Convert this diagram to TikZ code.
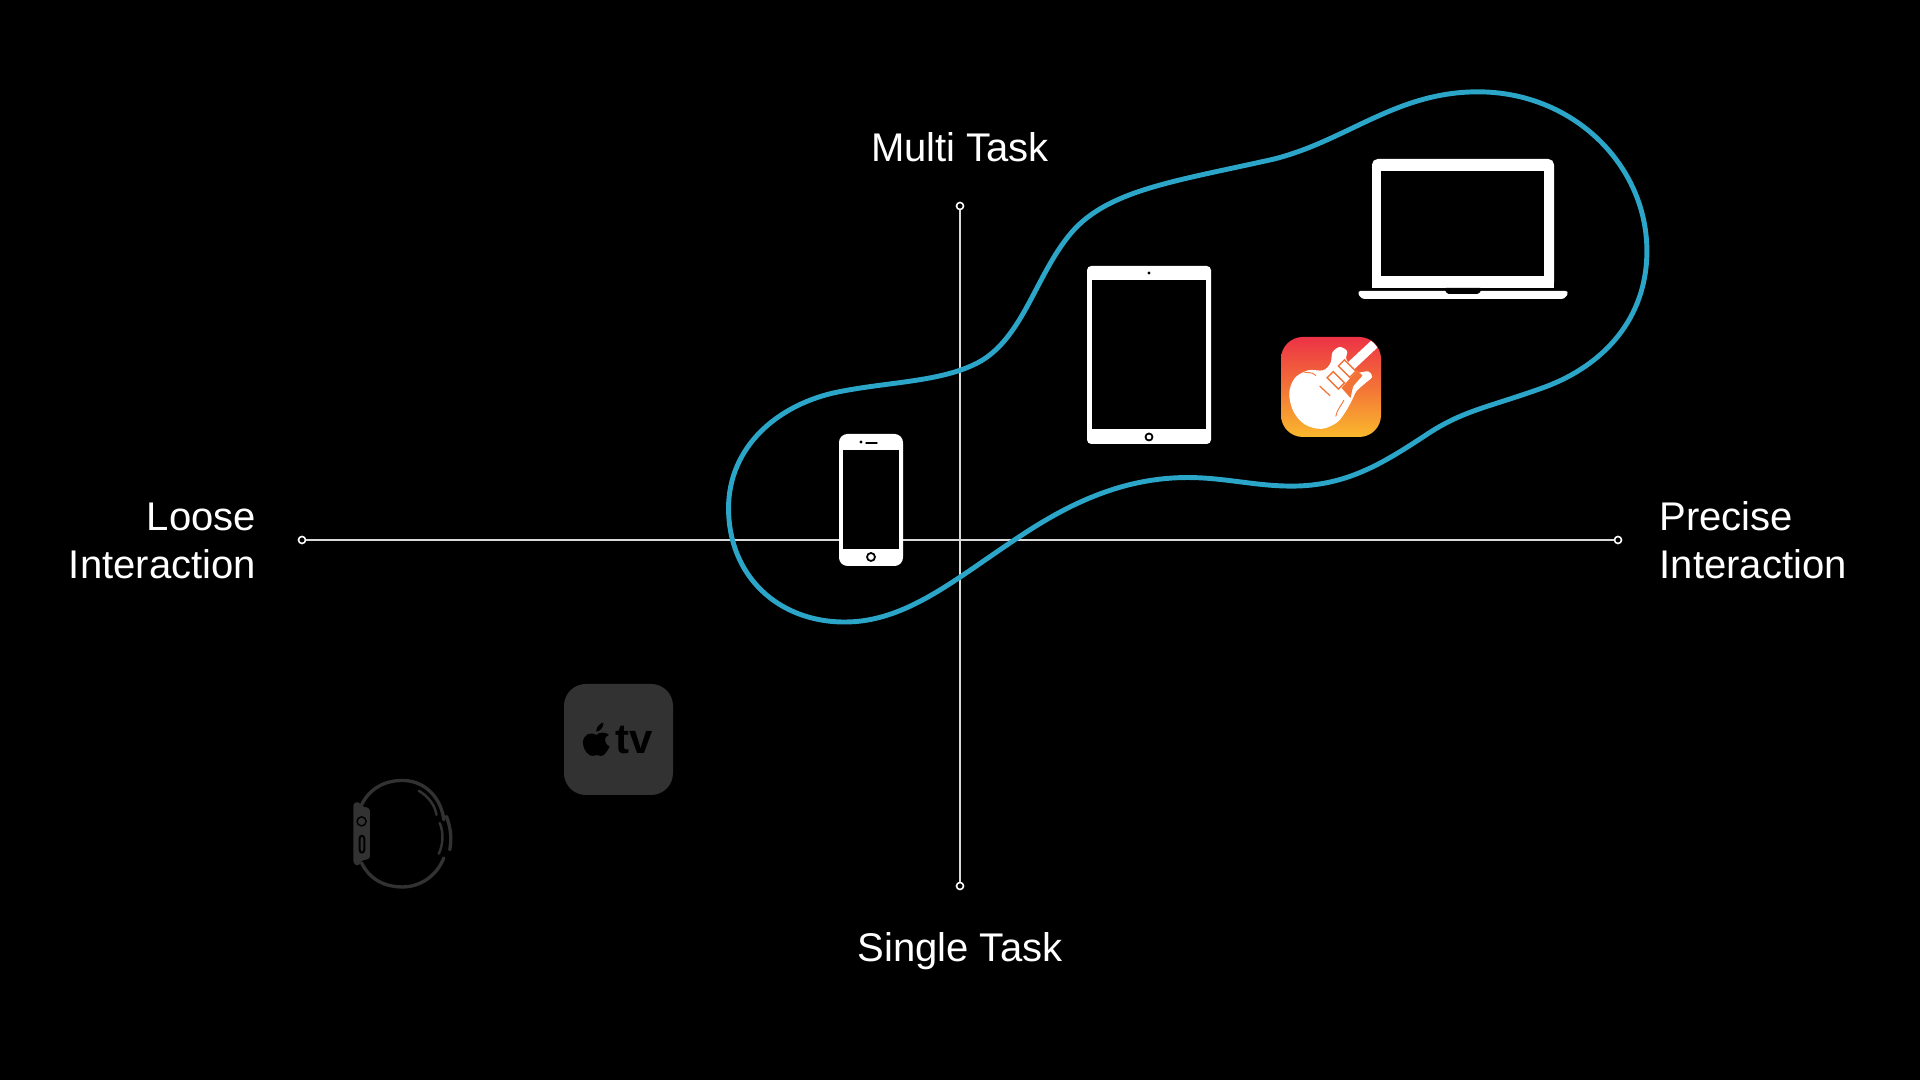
\documentclass[tikz,border=0pt]{standalone}
\usepackage{fontspec}
\setmainfont{Liberation Sans}
\definecolor{blobblue}{RGB}{43,165,200}
\definecolor{dimgray}{RGB}{50,50,50}
\definecolor{gbred}{RGB}{237,50,70}
\definecolor{gbmid}{RGB}{243,115,55}
\definecolor{gbyellow}{RGB}{250,185,45}
\tikzset{
  axislabel/.style={text=white, inner sep=0, font=\fontsize{11.38}{13.66}\selectfont},
  axisend/.style={circle, draw=white, fill=black, line width=0.45pt, minimum size=2pt, inner sep=0},
  axisline/.style={white!85!black, line width=0.5pt},
  devicebody/.style={fill=white},
  devicescreen/.style={fill=black},
  gbline/.style={gbmid, line width=0.35pt, line cap=round},
  watchline/.style={dimgray, line width=0.95pt, line cap=round}
}
\begin{document}
\begin{tikzpicture}[x=0.01cm, y=-0.01cm]
  \fill[black] (0,0) rectangle (1920,1080);
  \useasboundingbox (0,0) rectangle (1920,1080);

  \node[axisend] (axisleft) at (302,540) {};
  \node[axisend] (axisright) at (1618,540) {};
  \node[axisend] (axistop) at (960,206) {};
  \node[axisend] (axisbottom) at (960,886) {};
  \draw[axisline] (axisleft) -- (axisright);
  \draw[axisline] (axistop) -- (axisbottom);

  \node[axislabel] (multi) at (960,147) {Multi Task};
  \node[axislabel] (single) at (960,951) {Single Task};
  \node[axislabel, align=right, anchor=east] (loose) at (256.5,541) {Loose\\Interaction};
  \node[axislabel, align=left, anchor=west] (precise) at (1659,540) {Precise\\Interaction};

  \begin{scope}[x=0.012245cm, y=-0.012245cm]
    \draw[blobblue, line width=1.4pt] (1207,75) .. controls (1285,75) and (1345,135) .. (1345,205)
      .. controls (1345,260) and (1310,298) .. (1262,316)
      .. controls (1215,333) and (1195,335) .. (1165,355)
      .. controls (1130,378) and (1100,397) .. (1055,397)
      .. controls (1025,397) and (1000,390) .. (970,390)
      .. controls (915,390) and (870,413) .. (830,440)
      .. controls (780,473) and (740,508) .. (690,508)
      .. controls (635,508) and (595,470) .. (595,415)
      .. controls (595,365) and (635,330) .. (685,320)
      .. controls (725,312) and (765,312) .. (795,298)
      .. controls (835,280) and (845,225) .. (875,190)
      .. controls (905,155) and (960,148) .. (1040,130)
      .. controls (1100,115) and (1140,75) .. (1207,75) -- cycle;
  \end{scope}

  \fill[devicebody, rounded corners=2.4pt] (839,434) rectangle (903,566);
  \fill[devicescreen] (843,450) rectangle (899,549);
  \fill[black] (861,442) circle (1.6);
  \draw[black, line width=0.4pt, line cap=round] (866,443) -- (877,443);
  \draw[black, line width=0.5pt] (871,557) circle (4);

  \fill[devicebody, rounded corners=1.2pt] (1087,266) rectangle (1211,444);
  \fill[devicescreen] (1092,280) rectangle (1206,429);
  \fill[black] (1149,273) circle (1.6);
  \draw[black, line width=0.5pt] (1149,437) circle (3.5);

  \fill[devicebody, rounded corners=1.6pt] (1372,288) -- (1372,159) -- (1554,159) -- (1554,288) -- cycle;
  \fill[devicebody] (1372,280) rectangle (1554,288);
  \fill[devicescreen] (1381,171) rectangle (1544,276);
  \fill[devicebody, rounded corners=1pt] (1357,291) -- (1569,291) -- (1565,299) -- (1361,299) -- cycle;
  \fill[black, rounded corners=0.5pt] (1444,288) -- (1482,288) -- (1479,294) -- (1447,294) -- cycle;

  \shade[top color=gbred, bottom color=gbyellow, middle color=gbmid, rounded corners=6.2pt] (1281,337) rectangle (1381,437);
  \begin{scope}[shift={(1240,130)}, x=0.00333cm, y=-0.00333cm]
    \begin{scope}
      \clip[rounded corners=6.2pt] (124,622) rectangle (422,920);
      \draw[white, line width=2.65pt] (330,712) -- (420,628);
    \end{scope}
    \fill[white] plot[smooth cycle, tension=0.55] coordinates {
      (148,790) (165,745) (205,722) (250,722) (272,700) (278,668) (300,652) (322,665) (320,690)
      (352,727) (385,725) (397,742) (375,762) (350,785) (335,815) (315,850) (290,880)
      (245,898) (195,885) (160,845)};
    \fill[gbmid] (352,722) -- (368,738) -- (340,770) -- (332,805) -- (305,775) -- cycle;
    \fill[white, draw=gbmid, line width=0.4pt, rotate around={-45:(322,717)}] (298,704) rectangle (346,730);
    \fill[white, draw=gbmid, line width=0.4pt, rotate around={-45:(288,752)}] (264,739) rectangle (312,765);
    \draw[gbline] (240,770) -- (270,798);
    \draw[gbline, line width=0.25pt] (186,724) .. controls (205,735) and (210,722) .. (228,738);
    \draw[gbline, line width=0.25pt] (288,860) .. controls (292,840) and (300,835) .. (312,812);
  \end{scope}

  \fill[dimgray, rounded corners=6.2pt] (564,684) rectangle (673,795);
  \node[inner sep=0, text=black, font=\fontsize{11.9}{12}\selectfont\bfseries] (tvtext) at (634,740) {tv};
  \begin{scope}[shift={(320,660)}, x=0.00333cm, y=-0.00333cm]
    \fill[black] (830,225) .. controls (815,215) and (790,222) .. (790,250)
      .. controls (790,270) and (810,292) .. (820,288)
      .. controls (828,285) and (835,285) .. (843,288)
      .. controls (852,292) and (865,272) .. (870,260)
      .. controls (855,255) and (850,230) .. (868,225)
      .. controls (858,215) and (840,217) .. (830,225) -- cycle;
    \fill[black] (830,215) .. controls (830,200) and (842,190) .. (852,188)
      .. controls (852,202) and (842,215) .. (830,215) -- cycle;

    \draw[watchline] (125,435) .. controls (150,385) and (195,362) .. (248,362)
      .. controls (320,362) and (365,420) .. (372,480);
    \draw[watchline] (372,595) .. controls (350,650) and (300,682) .. (248,682)
      .. controls (195,682) and (150,660) .. (125,610);
    \draw[watchline] (380,470) .. controls (395,510) and (395,540) .. (390,570);
    \draw[watchline, line width=0.7pt] (297,393) .. controls (325,410) and (345,435) .. (350,465);
    \draw[watchline, line width=0.7pt] (360,490) .. controls (372,520) and (370,555) .. (357,582);
    \fill[dimgray, rounded corners=0.8pt] (100,430) -- (116,425) -- (125,440) -- (150,445) -- (150,598) -- (125,602) -- (116,620) -- (100,612) -- cycle;
    \fill[black] (125,485) circle (16);
    \fill[dimgray] (125,485) circle (11);
    \fill[black, rounded corners=1pt] (116,525) rectangle (136,582);
    \fill[dimgray, rounded corners=0.6pt] (122,532) rectangle (130,575);
  \end{scope}
\end{tikzpicture}
\end{document}
